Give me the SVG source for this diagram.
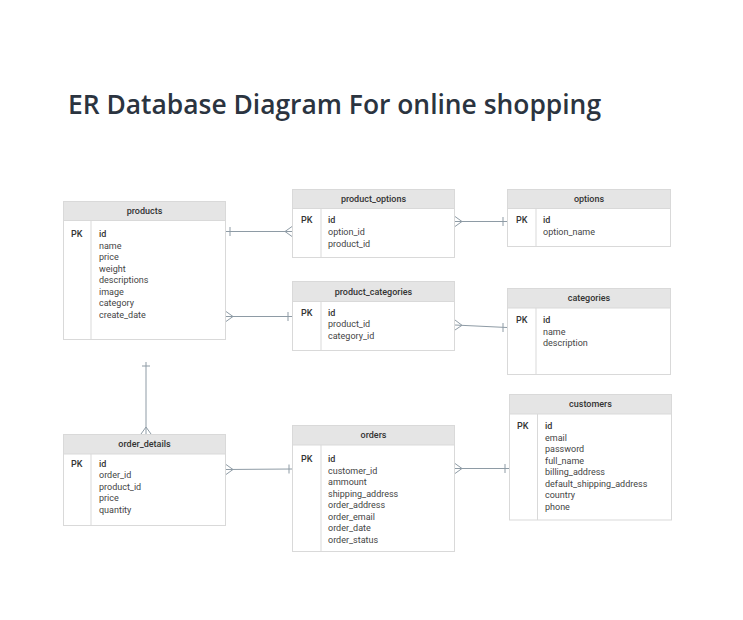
<svg xmlns="http://www.w3.org/2000/svg" width="743" height="620" viewBox="0 0 743 620">
<style>
.box{fill:#ffffff;stroke:#d9d9d9;stroke-width:1}
.hdr{fill:#e5e5e5;stroke:#d9d9d9;stroke-width:1}
.div{stroke:#d9d9d9;stroke-width:1}
.ht{font-family:Roboto,"Liberation Sans",sans-serif;font-size:9px;fill:#333;text-anchor:middle;font-weight:500}
.pk{font-family:Roboto,"Liberation Sans",sans-serif;font-size:9px;fill:#333;font-weight:500}
.f{font-family:Roboto,"Liberation Sans",sans-serif;font-size:9px;fill:#444}
.fid{font-family:Roboto,"Liberation Sans",sans-serif;font-size:9px;fill:#333;font-weight:500}
.ln{stroke:#8e9ba5;stroke-width:1;fill:none}
.title{font-family:"Open Sans","Noto Sans",sans-serif;font-size:26.4px;font-weight:600;fill:#2b3440}
</style>
<rect width="743" height="620" fill="#ffffff"/>
<text class="title" x="68" y="114">ER Database Diagram For online shopping</text>

<g id="products">
<rect class="box" x="63.5" y="201.5" width="162" height="138"/>
<rect class="hdr" x="63.5" y="201.5" width="162" height="19"/>
<line class="div" x1="91" y1="221" x2="91" y2="339"/>
<text class="ht" x="144.5" y="214">products</text>
<text class="pk" x="71" y="237">PK</text>
<text class="fid" x="99" y="237">id</text>
<text class="f" x="99" y="248.5">name</text>
<text class="f" x="99" y="260">price</text>
<text class="f" x="99" y="271.5">weight</text>
<text class="f" x="99" y="283">descriptions</text>
<text class="f" x="99" y="294.5">image</text>
<text class="f" x="99" y="306">category</text>
<text class="f" x="99" y="317.5">create_date</text>
</g>

<g id="product_options">
<rect class="box" x="292.5" y="189.5" width="162" height="68"/>
<rect class="hdr" x="292.5" y="189.5" width="162" height="19"/>
<line class="div" x1="321" y1="209" x2="321" y2="257"/>
<text class="ht" x="373.5" y="202">product_options</text>
<text class="pk" x="301" y="223">PK</text>
<text class="fid" x="328" y="223">id</text>
<text class="f" x="328" y="235">option_id</text>
<text class="f" x="328" y="246.5">product_id</text>
</g>

<g id="product_categories">
<rect class="box" x="292.5" y="281.5" width="162" height="69"/>
<rect class="hdr" x="292.5" y="281.5" width="162" height="20"/>
<line class="div" x1="321" y1="302" x2="321" y2="350"/>
<text class="ht" x="373.5" y="294.5">product_categories</text>
<text class="pk" x="301" y="315.5">PK</text>
<text class="fid" x="328" y="315.5">id</text>
<text class="f" x="328" y="327">product_id</text>
<text class="f" x="328" y="339">category_id</text>
</g>

<g id="options">
<rect class="box" x="507.5" y="189.5" width="163" height="57"/>
<rect class="hdr" x="507.5" y="189.5" width="163" height="19"/>
<line class="div" x1="536" y1="209" x2="536" y2="246"/>
<text class="ht" x="589" y="202">options</text>
<text class="pk" x="516" y="223">PK</text>
<text class="fid" x="543" y="223">id</text>
<text class="f" x="543" y="235">option_name</text>
</g>

<g id="categories">
<rect class="box" x="507.5" y="288.5" width="163" height="86"/>
<rect class="hdr" x="507.5" y="288.5" width="163" height="19.5"/>
<line class="div" x1="536" y1="308" x2="536" y2="374"/>
<text class="ht" x="589" y="301">categories</text>
<text class="pk" x="516" y="323">PK</text>
<text class="fid" x="543" y="323">id</text>
<text class="f" x="543" y="334.5">name</text>
<text class="f" x="543" y="346">description</text>
</g>

<g id="order_details">
<rect class="box" x="63.5" y="434.5" width="162" height="91"/>
<rect class="hdr" x="63.5" y="434.5" width="162" height="19.5"/>
<line class="div" x1="91" y1="454" x2="91" y2="525"/>
<text class="ht" x="144.5" y="447">order_details</text>
<text class="pk" x="71" y="466.5">PK</text>
<text class="fid" x="99" y="466.5">id</text>
<text class="f" x="99" y="478">order_id</text>
<text class="f" x="99" y="489.5">product_id</text>
<text class="f" x="99" y="501">price</text>
<text class="f" x="99" y="512.5">quantity</text>
</g>

<g id="orders">
<rect class="box" x="292.5" y="425.5" width="162" height="126"/>
<rect class="hdr" x="292.5" y="425.5" width="162" height="19.5"/>
<line class="div" x1="321" y1="445" x2="321" y2="551"/>
<text class="ht" x="373.5" y="438">orders</text>
<text class="pk" x="301" y="462">PK</text>
<text class="fid" x="328" y="462">id</text>
<text class="f" x="328" y="473.5">customer_id</text>
<text class="f" x="328" y="485">ammount</text>
<text class="f" x="328" y="496.5">shipping_address</text>
<text class="f" x="328" y="508">order_address</text>
<text class="f" x="328" y="519.5">order_email</text>
<text class="f" x="328" y="531">order_date</text>
<text class="f" x="328" y="542.5">order_status</text>
</g>

<g id="customers">
<rect class="box" x="509.5" y="394.5" width="162" height="125.5"/>
<rect class="hdr" x="509.5" y="394.5" width="162" height="19.5"/>
<line class="div" x1="537.5" y1="414" x2="537.5" y2="520"/>
<text class="ht" x="590.5" y="407">customers</text>
<text class="pk" x="517" y="429">PK</text>
<text class="fid" x="545" y="429">id</text>
<text class="f" x="545" y="440.5">email</text>
<text class="f" x="545" y="452">password</text>
<text class="f" x="545" y="463.5">full_name</text>
<text class="f" x="545" y="475">billing_address</text>
<text class="f" x="545" y="486.5">default_shipping_address</text>
<text class="f" x="545" y="498">country</text>
<text class="f" x="545" y="509.5">phone</text>
</g>

<g id="connectors">
<path class="ln" d="M226 231.5 H292 M230 227 V236 M292 226.5 L285 231.5 L292 236.5"/>
<path class="ln" d="M226 316.5 H292 M288 312 V321 M226 311.5 L233 316.5 L226 321.5"/>
<path class="ln" d="M455 221.5 H507 M503 217 V226 M455 216.5 L462 221.5 L455 226.5"/>
<path class="ln" d="M455 325 L507 327.5 M503 323 V332 M455 320 L462 325.3 L455 330"/>
<path class="ln" d="M146 362 V434 M142 366 H150 M141 434 L146 427 L151 434"/>
<path class="ln" d="M226 469.5 L292 469 M289 464.5 V473.5 M226 464.5 L233 469.5 L226 474.5"/>
<path class="ln" d="M455 468.5 H509 M505 464 V473 M455 463.5 L462 468.5 L455 473.5"/>
</g>
</svg>
